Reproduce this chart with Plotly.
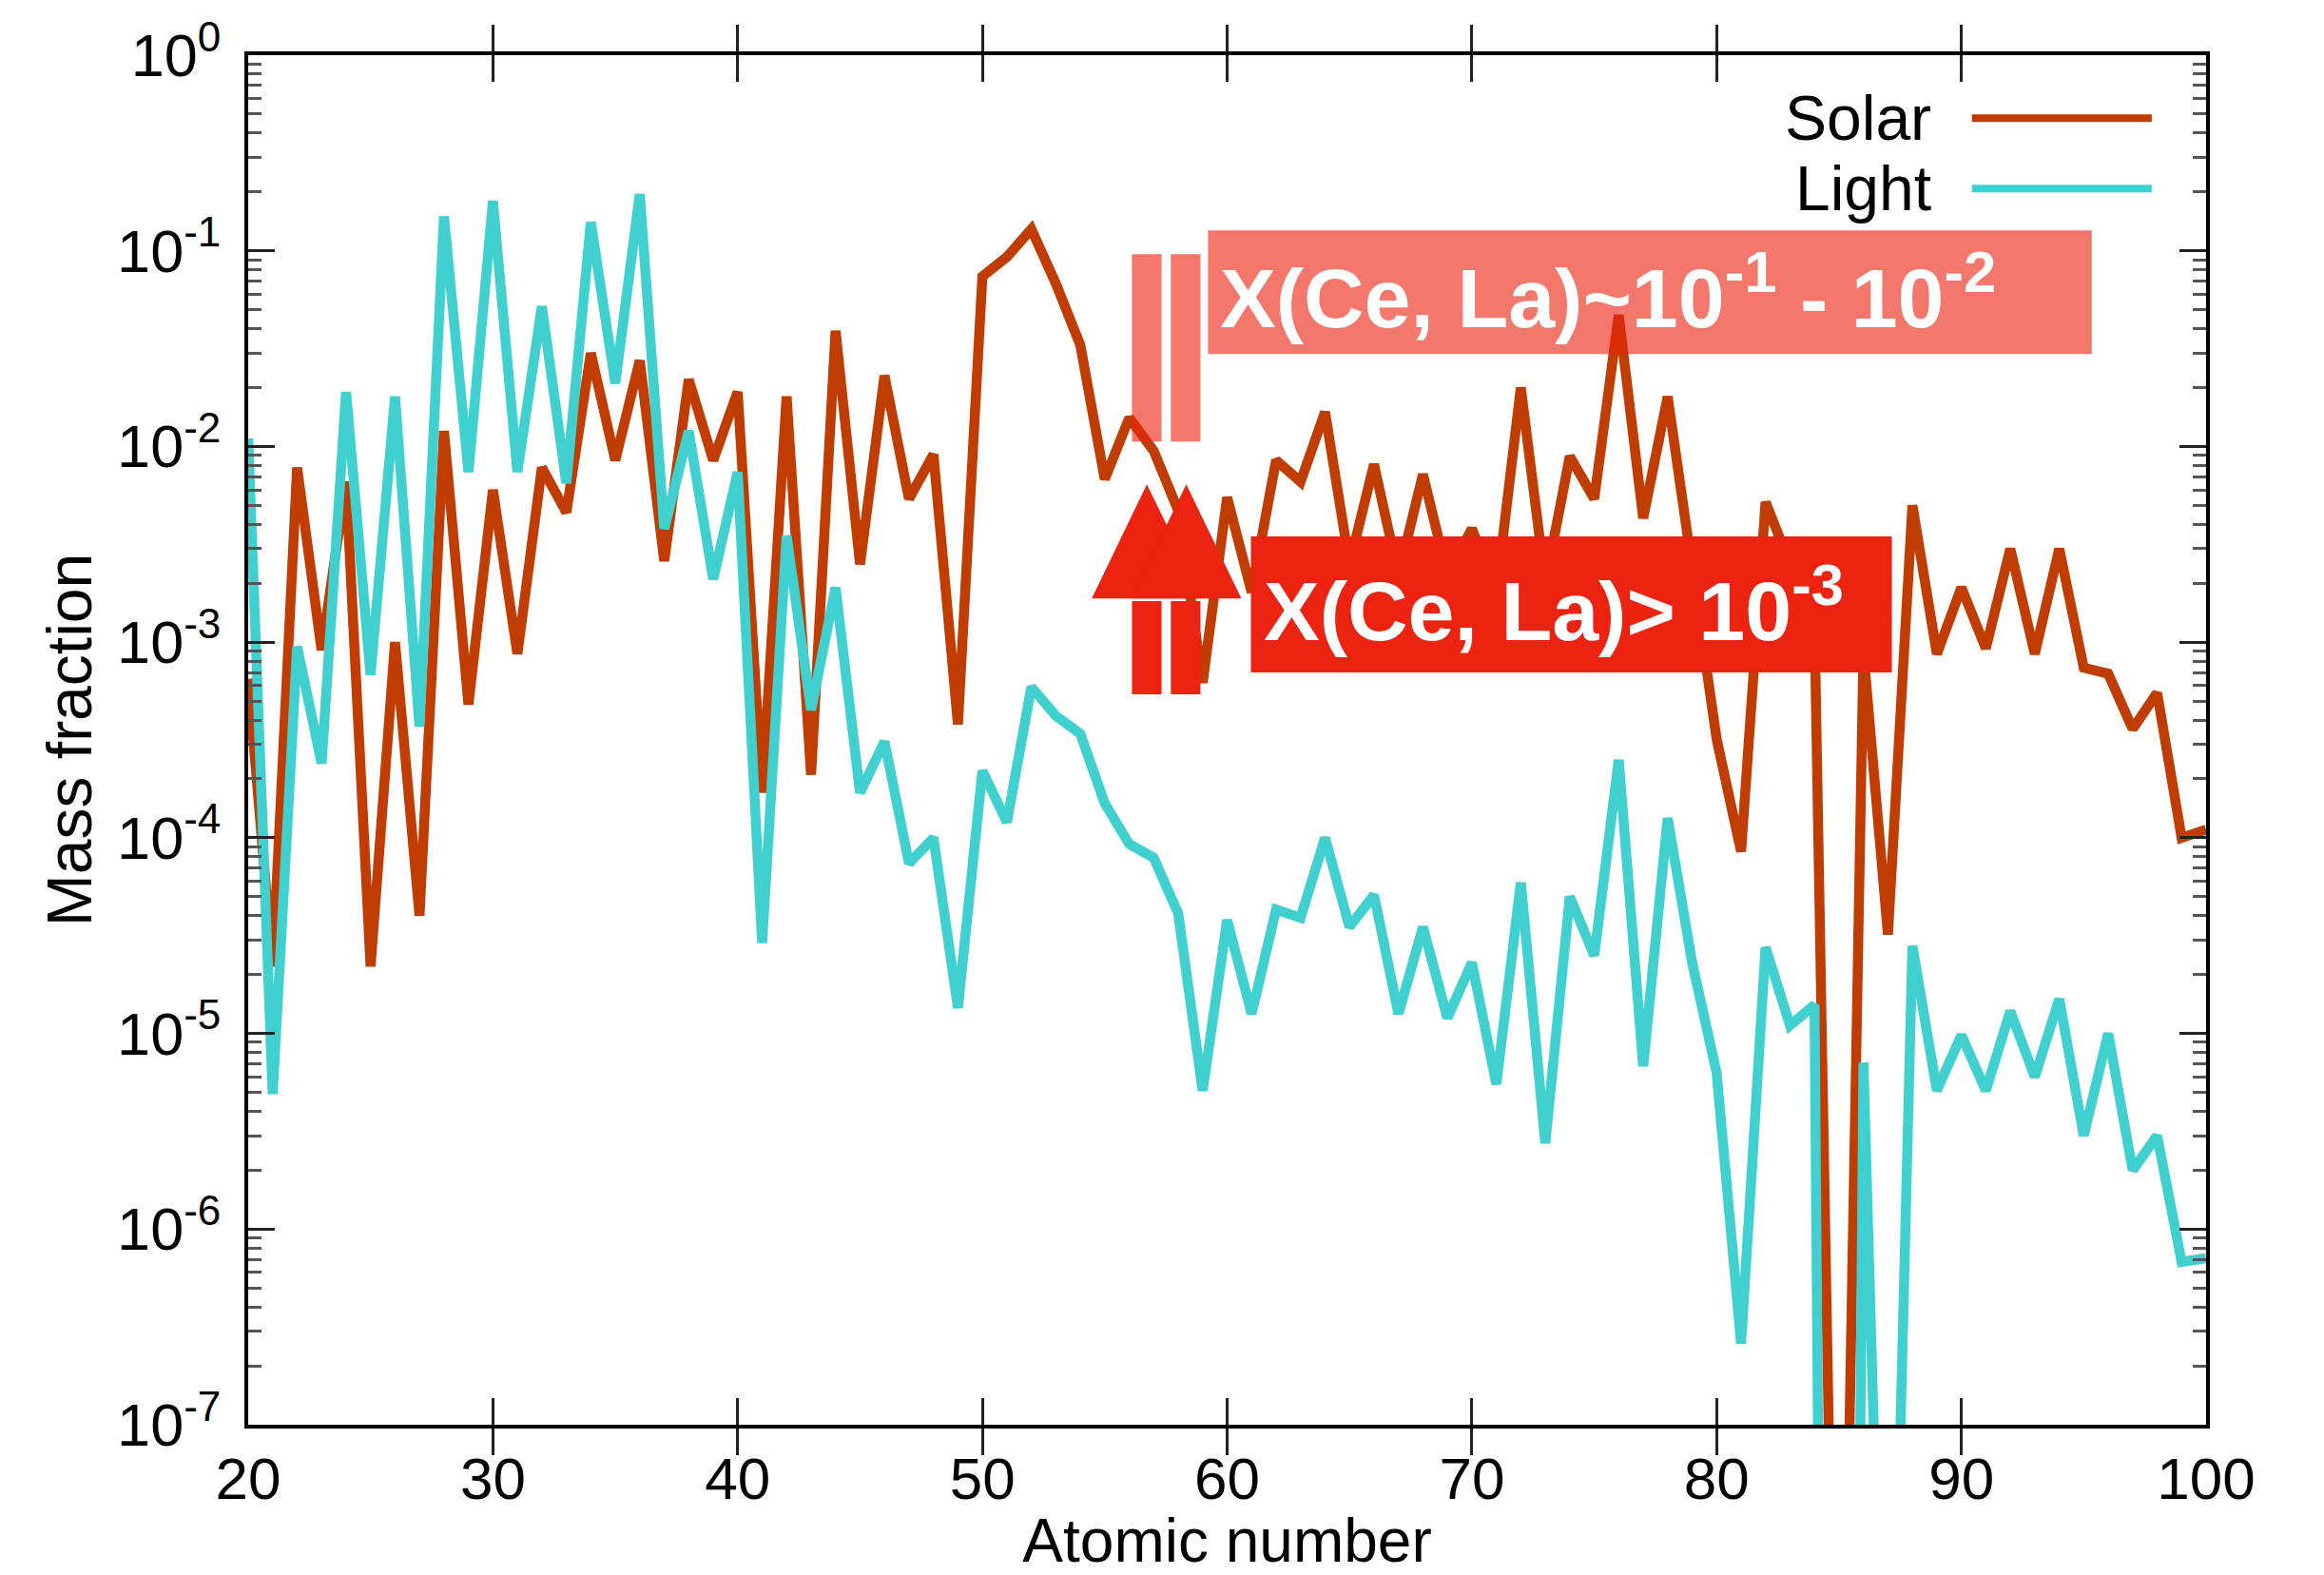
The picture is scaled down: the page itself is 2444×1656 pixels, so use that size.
import plotly.graph_objects as go

# ---------------- data ----------------
atomic_number = list(range(20, 101))

solar = [
    6.5e-4, 2.2e-5, 7.8e-3, 9.1e-4, 6.6e-3, 2.2e-5, 1.0e-3, 4.0e-5, 1.2e-2, 4.8e-4,   # 20-29
    6.0e-3, 8.7e-4, 7.8e-3, 4.6e-3, 3.0e-2, 8.5e-3, 2.75e-2, 2.6e-3, 2.2e-2, 8.5e-3,  # 30-39
    1.9e-2, 1.7e-4, 1.8e-2, 2.1e-4, 3.9e-2, 2.5e-3, 2.3e-2, 5.4e-3, 9.1e-3, 3.8e-4,   # 40-49
    7.4e-2, 9.3e-2, 1.29e-1, 6.8e-2, 3.3e-2, 6.8e-3, 1.4e-2, 9.5e-3, 4.7e-3, 6.2e-4,  # 50-59
    5.5e-3, 1.8e-3, 8.5e-3, 6.6e-3, 1.5e-2, 2.5e-3, 8.1e-3, 2.2e-3, 7.2e-3, 2.2e-3,   # 60-69
    3.8e-3, 1.8e-3, 2.0e-2, 2.0e-3, 8.9e-3, 5.4e-3, 4.7e-2, 4.3e-3, 1.8e-2, 2.5e-3,   # 70-79
    3.2e-4, 8.5e-5, 5.2e-3, 2.5e-3, 1.3e-3, 1.0e-10, 8.9e-4, 3.2e-5, 5.0e-3, 8.7e-4,  # 80-89
    1.9e-3, 9.3e-4, 3.0e-3, 8.7e-4, 3.0e-3, 7.4e-4, 6.9e-4, 3.6e-4, 5.5e-4, 1.0e-4,   # 90-99
    1.1e-4,                                                                              # 100
]

light = [
    1.1e-2, 4.9e-6, 9.5e-4, 2.4e-4, 1.9e-2, 6.8e-4, 1.8e-2, 3.7e-4, 1.5e-1, 7.4e-3,   # 20-29
    1.8e-1, 7.4e-3, 5.2e-2, 6.5e-3, 1.4e-1, 2.1e-2, 1.95e-1, 3.8e-3, 1.2e-2, 2.1e-3,  # 30-39
    7.4e-3, 2.9e-5, 3.5e-3, 4.5e-4, 1.9e-3, 1.7e-4, 3.1e-4, 7.4e-5, 1.0e-4, 1.35e-5,  # 40-49
    2.2e-4, 1.2e-4, 5.9e-4, 4.2e-4, 3.4e-4, 1.5e-4, 9.3e-5, 7.9e-5, 4.1e-5, 5.1e-6,   # 50-59
    3.8e-5, 1.26e-5, 4.3e-5, 3.9e-5, 1.0e-4, 3.5e-5, 5.1e-5, 1.26e-5, 3.5e-5, 1.2e-5, # 60-69
    2.3e-5, 5.5e-6, 5.9e-5, 2.75e-6, 5.0e-5, 2.5e-5, 2.5e-4, 6.8e-6, 1.26e-4, 2.3e-5, # 70-79
    6.3e-6, 2.6e-7, 2.75e-5, 1.1e-5, 1.4e-5, 1.0e-20, 7.1e-6, 2.5e-10, 2.8e-5, 5.1e-6,# 80-89
    9.8e-6, 5.1e-6, 1.3e-5, 6.0e-6, 1.5e-5, 3.0e-6, 1.0e-5, 2.0e-6, 3.0e-6, 6.8e-7,   # 90-99
    7.1e-7,                                                                              # 100
]

series_names = ["Solar", "Light"]
x_tick_values = [20, 30, 40, 50, 60, 70, 80, 90, 100]
y_tick_exponents = [-7, -6, -5, -4, -3, -2, -1, 0]
y_tick_values = [10.0 ** e for e in y_tick_exponents]
y_tick_text = ["10<sup>%d</sup>" % e for e in y_tick_exponents]
y_minor_values = [k * 10.0 ** e for e in y_tick_exponents[:-1] for k in range(2, 10)]

annotation_range_text = "X(Ce, La)~10<sup>-1</sup> - 10<sup>-2</sup>"
annotation_limit_text = "X(Ce, La)> 10<sup>-3</sup>"

# ---------------- styling ----------------
SOLAR_COLOR = "#C03C00"
LIGHT_COLOR = "#40D0D0"
BOX_RED = "rgb(236,35,16)"
FONT = "Liberation Sans, Arial, Helvetica, sans-serif"

fig = go.Figure()
fig.add_trace(go.Scatter(x=atomic_number, y=solar, mode="lines", name=series_names[0],
                         line=dict(color=SOLAR_COLOR, width=10.5), showlegend=False))
fig.add_trace(go.Scatter(x=atomic_number, y=light, mode="lines", name=series_names[1],
                         line=dict(color=LIGHT_COLOR, width=10.5), showlegend=False))

fig.update_layout(
    width=2444, height=1656, autosize=False,
    margin=dict(l=261, r=124, t=58, b=158, pad=0),
    paper_bgcolor="white", plot_bgcolor="white",
    font=dict(family=FONT, color="black", size=62),
    xaxis=dict(range=[20, 100], tickvals=x_tick_values, ticks="inside", ticklen=28,
               tickwidth=3, tickcolor="#222", showline=True, linewidth=4, linecolor="black",
               mirror="allticks", showgrid=False, zeroline=False, automargin=False,
               tickfont=dict(size=62, family=FONT), ticklabelstandoff=0,
               title=dict(text="Atomic number", font=dict(size=64, family=FONT), standoff=26)),
    yaxis=dict(type="log", range=[-7, 0], tickvals=y_tick_values, ticktext=y_tick_text,
               ticks="inside", ticklen=28, tickwidth=3, tickcolor="#222",
               minor=dict(tickvals=y_minor_values, ticks="inside", ticklen=14, tickwidth=3,
                          tickcolor="#555", showgrid=False),
               showline=True, linewidth=4, linecolor="black", mirror="allticks",
               showgrid=False, zeroline=False, automargin=False,
               tickfont=dict(size=63, family=FONT), ticklabelstandoff=12,
               title=dict(text="Mass fraction", font=dict(size=66, family=FONT), standoff=6)),
    # linear overlay axis holding log10 values, used to place the annotations
    yaxis2=dict(range=[-7, 0], overlaying="y", visible=False, showgrid=False,
                zeroline=False, automargin=False),
)

shapes = []
# translucent range box and bars
shapes.append(dict(type="rect", xref="x", yref="y2", x0=59.22, x1=95.33, y0=-1.527, y1=-0.896,
                   fillcolor=BOX_RED, opacity=0.62, line=dict(width=0), layer="above"))
for x0, x1 in [(56.11, 57.32), (57.70, 58.91)]:
    shapes.append(dict(type="rect", xref="x", yref="y2", x0=x0, x1=x1, y0=-1.975, y1=-1.017,
                       fillcolor=BOX_RED, opacity=0.62, line=dict(width=0), layer="above"))
# opaque limit box
shapes.append(dict(type="rect", xref="x", yref="y2", x0=60.97, x1=87.16, y0=-3.155, y1=-2.46,
                   fillcolor=BOX_RED, line=dict(width=0), layer="above"))
# two upward arrows
for (hl, tip, hr), (s0, s1) in [((54.47, 56.72, 58.99), (56.11, 57.32)),
                                ((56.07, 58.33, 60.58), (57.70, 58.91))]:
    shapes.append(dict(type="path", xref="x", yref="y2",
                       path="M %.3f,%.3f L %.3f,%.3f L %.3f,%.3f Z" % (hl, -2.777, tip, -2.193, hr, -2.777),
                       fillcolor=BOX_RED, line=dict(width=0), layer="above"))
    shapes.append(dict(type="rect", xref="x", yref="y2", x0=s0, x1=s1, y0=-3.267, y1=-2.79,
                       fillcolor=BOX_RED, line=dict(width=0), layer="above"))
# manual legend line samples (symbol placed right of the label, as in the reference)
for yv, col in [(-0.322, SOLAR_COLOR), (-0.682, LIGHT_COLOR)]:
    shapes.append(dict(type="line", xref="x", yref="y2", x0=90.43, x1=97.78, y0=yv, y1=yv,
                       line=dict(color=col, width=8), layer="above"))
fig.update_layout(shapes=shapes)

annotations = [
    dict(x=59.65, y=-1.21, xref="x", yref="y2", text="<b>%s</b>" % annotation_range_text,
         showarrow=False, xanchor="left", yanchor="middle",
         font=dict(family=FONT, size=88, color="white")),
    dict(x=61.4, y=-2.81, xref="x", yref="y2", text="<b>%s</b>" % annotation_limit_text,
         showarrow=False, xanchor="left", yanchor="middle",
         font=dict(family=FONT, size=88, color="white")),
    dict(x=88.85, y=-0.322, xref="x", yref="y2", text=series_names[0], showarrow=False,
         xanchor="right", yanchor="middle", font=dict(family=FONT, size=66, color="black")),
    dict(x=88.85, y=-0.682, xref="x", yref="y2", text=series_names[1], showarrow=False,
         xanchor="right", yanchor="middle", font=dict(family=FONT, size=66, color="black")),
]
fig.update_layout(annotations=annotations)

fig.write_html("out.html")
